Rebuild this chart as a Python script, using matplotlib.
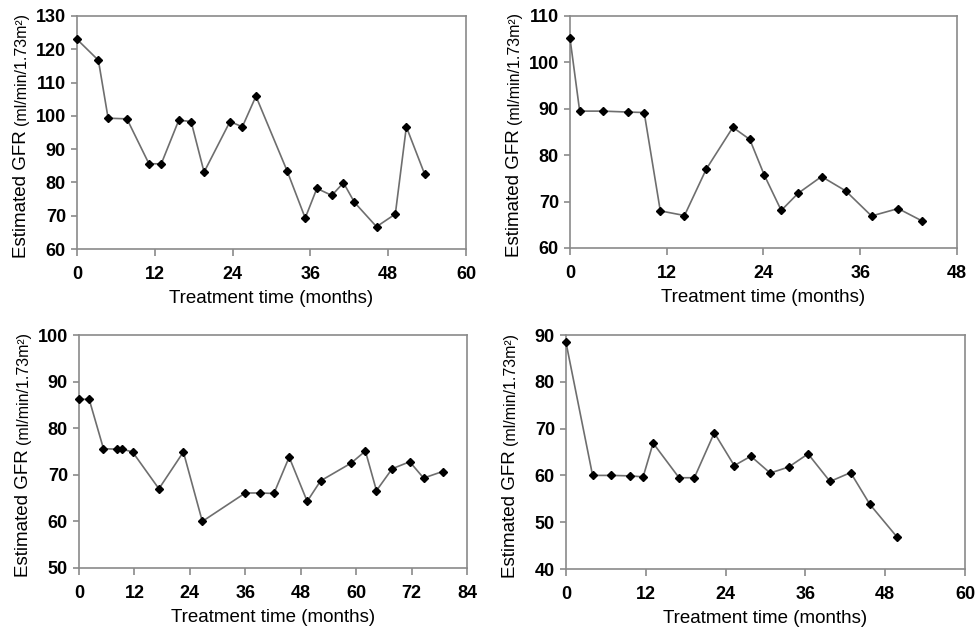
import matplotlib
matplotlib.use("Agg")
import matplotlib.pyplot as plt

plt.rcParams['font.family'] = ['Liberation Sans', 'DejaVu Sans']

# Panel A (top-left)
months_a = [0, 3.3, 4.8, 7.7, 11.1, 13.0, 15.7, 17.6, 19.6, 23.6, 25.5, 27.6,
            32.4, 35.2, 37.0, 39.3, 41.1, 42.8, 46.2, 49.1, 50.8, 53.6]
gfr_a = [123.0, 116.7, 99.3, 99.1, 85.6, 85.6, 98.7, 98.3, 83.1, 98.3, 96.7, 105.9,
         83.5, 69.3, 78.2, 76.1, 79.9, 74.0, 66.7, 70.5, 96.7, 82.6]

# Panel B (top-right)
months_b = [0, 1.2, 4.1, 7.2, 9.2, 11.2, 14.2, 16.9, 20.2, 22.3, 24.1, 26.2,
            28.3, 31.2, 34.2, 37.4, 40.7, 43.7]
gfr_b = [105.2, 89.5, 89.5, 89.3, 89.2, 68.0, 67.0, 77.0, 86.0, 83.4, 75.7, 68.1,
         71.8, 75.4, 72.3, 66.9, 68.5, 65.8]

# Panel C (bottom-left)
months_c = [0, 2.2, 5.3, 8.3, 9.4, 11.6, 17.3, 22.6, 26.7, 36.0, 39.1, 42.2,
            45.5, 49.4, 52.3, 58.9, 62.0, 64.4, 67.8, 71.6, 74.6, 78.7]
gfr_c = [86.2, 86.2, 75.6, 75.5, 75.5, 74.9, 67.0, 74.9, 60.0, 66.1, 66.1, 66.0,
         73.8, 64.3, 68.7, 72.5, 75.1, 66.6, 71.3, 72.8, 69.3, 70.7]

# Panel D (bottom-right)
months_d = [0, 4.0, 6.8, 9.6, 11.6, 13.1, 17.0, 19.3, 22.3, 25.3, 27.8, 30.7,
            33.5, 36.4, 39.7, 42.8, 45.7, 49.8]
gfr_d = [88.4, 60.0, 60.0, 59.9, 59.7, 66.9, 59.5, 59.5, 69.1, 62.1, 64.1, 60.5,
         61.8, 64.6, 58.7, 60.6, 53.8, 46.8]

panels = [
    (months_a, gfr_a, (0, 60), [0, 12, 24, 36, 48, 60], (60, 130), list(range(60, 131, 10))),
    (months_b, gfr_b, (0, 48), [0, 12, 24, 36, 48], (60, 110), list(range(60, 111, 10))),
    (months_c, gfr_c, (0, 84), [0, 12, 24, 36, 48, 60, 72, 84], (50, 100), list(range(50, 101, 10))),
    (months_d, gfr_d, (0, 60), [0, 12, 24, 36, 48, 60], (40, 90), list(range(40, 91, 10))),
]

W, H = 976, 631
rects_px = [(77, 16, 466, 249), (570, 16, 957, 248), (79, 335, 467, 568), (566, 335, 965, 569)]

fig = plt.figure(figsize=(W / 100, H / 100), dpi=100)
spine_col = '#8a8a8a'
for (x, y, xl, xt, yl, yt), (l, t, r, b) in zip(panels, rects_px):
    ax = fig.add_axes([l / W, (H - b) / H, (r - l) / W, (b - t) / H])
    ax.plot(x, y, color='#6e6e6e', lw=1.2, marker='D', ms=3.8,
            mfc='black', mec='black', zorder=3, clip_on=False)
    ax.set_xlim(*xl)
    ax.set_ylim(*yl)
    ax.set_xticks(xt)
    ax.set_yticks(yt)
    for s in ax.spines.values():
        s.set_color(spine_col)
        s.set_linewidth(1.2)
    ax.tick_params(axis='both', direction='out', color=spine_col, width=1.2,
                   labelsize=13, labelcolor='black')
    ax.tick_params(axis='x', length=5, pad=7)
    ax.tick_params(axis='y', length=4, pad=4)
    for lab in ax.get_xticklabels() + ax.get_yticklabels():
        lab.set_fontweight('bold')
    ax.set_xlabel('Treatment time (months)', fontsize=13.5, labelpad=5)
    t1 = ax.annotate('Estimated GFR ', xy=(0, -0.04), xycoords='axes fraction',
                     xytext=(-40, 0), textcoords='offset points',
                     rotation=90, ha='center', va='bottom', fontsize=13.5)
    ax.annotate('(ml/min/1.73m²)', xy=(0.5, 1), xycoords=t1,
                rotation=90, ha='center', va='bottom', fontsize=11.5)

fig.savefig('out.png', dpi=100)
